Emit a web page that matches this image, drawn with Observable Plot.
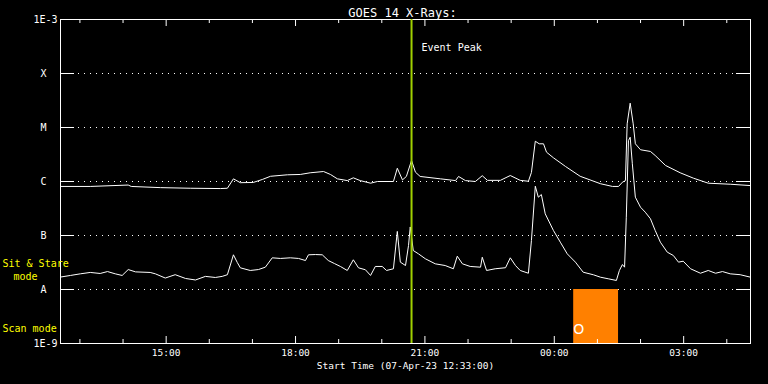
<!DOCTYPE html>
<html><head><meta charset="utf-8">
<script src="https://cdn.jsdelivr.net/npm/d3@7"></script>
<script src="https://cdn.jsdelivr.net/npm/@observablehq/plot@0.6"></script>
<style>html,body{margin:0;padding:0;background:#000;overflow:hidden;} #chart svg{display:block;}</style>
</head><body><div id="chart"></div>
<script>
// ---- data ----
const title = "GOES 14 X-Rays:";
const xLabel = "Start Time (07-Apr-23 12:33:00)";
const startTime = Date.UTC(2023, 3, 7, 12, 33);
const spanHours = 16;

// long channel (1-8 Å), hours since start / flux W m^-2
const longHours = [0.00,0.69,1.57,1.64,2.32,3.01,3.71,3.87,4.01,4.17,4.47,4.68,4.87,5.26,5.56,5.79,6.10,6.26,6.42,6.65,6.79,6.95,7.19,7.35,7.72,7.81,7.93,8.02,8.14,8.23,8.34,8.81,9.16,9.23,9.39,9.62,9.78,9.90,10.20,10.43,10.66,10.85,10.92,11.01,11.10,11.20,11.27,11.43,11.71,12.05,12.52,12.80,12.94,13.03,13.10,13.14,13.21,13.28,13.33,13.45,13.68,13.79,14.03,14.37,14.68,15.02,15.53,16.00];
const longFlux = [8.1e-7,8.1e-7,8.6e-7,8.1e-7,7.7e-7,7.5e-7,7.4e-7,7.5e-7,1.12e-6,9.5e-7,9.6e-7,1.09e-6,1.25e-6,1.33e-6,1.35e-6,1.45e-6,1.53e-6,1.35e-6,1.12e-6,1.04e-6,1.17e-6,1.04e-6,9.3e-7,1.0e-6,1.0e-6,1.76e-6,1.07e-6,1.24e-6,2.45e-6,1.49e-6,1.24e-6,1.12e-6,1.04e-6,1.24e-6,1.04e-6,1.0e-6,1.28e-6,1.05e-6,1.05e-6,1.29e-6,1.05e-6,1.01e-6,1.47e-6,5.57e-6,4.99e-6,4.99e-6,3.49e-6,2.75e-6,1.90e-6,1.25e-6,9.1e-7,8.1e-7,8.1e-7,9.7e-7,1.04e-6,1.17e-5,2.82e-5,1.17e-5,5.0e-6,3.87e-6,3.6e-6,3.03e-6,1.98e-6,1.45e-6,1.15e-6,9.3e-7,8.9e-7,8.4e-7];

// short channel (0.5-4 Å)
const shortHours = [0.00,0.23,0.46,0.69,0.92,1.09,1.27,1.43,1.57,1.74,2.08,2.20,2.43,2.66,2.90,3.13,3.36,3.59,3.75,3.87,4.01,4.10,4.17,4.40,4.59,4.75,4.91,5.10,5.33,5.52,5.68,5.75,5.91,6.07,6.21,6.35,6.49,6.65,6.79,6.91,7.07,7.19,7.30,7.46,7.56,7.72,7.81,7.88,8.00,8.07,8.11,8.18,8.30,8.46,8.69,8.92,9.11,9.20,9.32,9.50,9.74,9.78,9.88,10.08,10.32,10.43,10.55,10.66,10.85,10.92,11.01,11.08,11.15,11.24,11.43,11.59,11.75,11.94,12.12,12.36,12.52,12.70,12.89,12.96,13.03,13.08,13.12,13.17,13.21,13.26,13.33,13.45,13.56,13.68,13.79,13.91,14.07,14.21,14.33,14.44,14.61,14.84,15.02,15.19,15.35,15.53,15.76,16.00];
const shortFlux = [1.70e-8,1.82e-8,1.95e-8,2.07e-8,1.98e-8,2.15e-8,1.95e-8,1.82e-8,2.34e-8,2.12e-8,2.07e-8,1.95e-8,1.63e-8,1.88e-8,1.60e-8,1.50e-8,1.75e-8,1.67e-8,1.75e-8,1.88e-8,4.39e-8,3.16e-8,2.52e-8,2.25e-8,2.34e-8,2.59e-8,3.86e-8,3.76e-8,3.86e-8,3.76e-8,3.44e-8,4.39e-8,4.44e-8,4.39e-8,3.44e-8,3.03e-8,2.67e-8,2.25e-8,3.55e-8,2.52e-8,2.32e-8,1.82e-8,2.67e-8,2.67e-8,2.25e-8,2.42e-8,1.19e-7,3.21e-8,2.78e-8,6.53e-8,1.44e-7,5.27e-8,4.58e-8,3.71e-8,2.99e-8,2.78e-8,2.42e-8,4.14e-8,2.99e-8,2.67e-8,2.59e-8,3.96e-8,2.25e-8,2.42e-8,2.53e-8,3.86e-8,2.78e-8,2.25e-8,2.0e-8,8.07e-8,8.18e-7,5.12e-7,5.74e-7,2.52e-7,1.24e-7,7.52e-8,4.58e-8,3.21e-8,2.09e-8,1.87e-8,1.69e-8,1.58e-8,1.47e-8,2.25e-8,2.9e-8,2.59e-8,2.18e-7,5.74e-6,6.6e-6,2.13e-6,5.12e-7,3.34e-7,2.7e-7,2.04e-7,1.24e-7,7.52e-8,4.91e-8,4.27e-8,3.21e-8,3.34e-8,2.42e-8,2.0e-8,2.25e-8,2.0e-8,2.15e-8,1.95e-8,1.88e-8,1.69e-8];

const levelValues = [1e-8, 1e-7, 1e-6, 1e-5, 1e-4];
const levelLabels = ["A", "B", "C", "M", "X"];
const endValues = [1e-9, 1e-3];
const endLabels = ["1E-9", "1E-3"];
const eventPeakHours = 8.14;
const eventLabel = "Event Peak";
const scanStartHours = 11.90, scanEndHours = 12.94;
const scanBand = [1e-9, 1e-8];
const scanMark = "O";
const modeLabels = ["Sit & Stare", "mode", "Scan mode"];

// ---- build ----
const toDate = h => new Date(startTime + h * 3600e3);
const longData = longHours.map((h, i) => ({t: toDate(h), f: longFlux[i]}));
const shortData = shortHours.map((h, i) => ({t: toDate(h), f: shortFlux[i]}));
const hourTicks = d3.utcHour.range(toDate(0), toDate(spanHours));
const majorTicks = hourTicks.filter(d => d.getUTCHours() % 3 === 0);
const minorTicks = hourTicks.filter(d => d.getUTCHours() % 3 !== 0);
const fmt = d3.utcFormat("%H:%M");

const W = 768, H = 384, mL = 60, mR = 18, mT = 19, mB = 41;
const fw = W - mL - mR, fh = H - mT - mB;
const font = "DejaVu Sans Mono";
const yellow = "#ffff00";

const chart = Plot.plot({
  width: W, height: H,
  marginLeft: mL, marginRight: mR, marginTop: mT, marginBottom: mB,
  style: {background: "black", color: "white", fontFamily: font, fontSize: "10px"},
  x: {type: "utc", domain: [toDate(0), toDate(spanHours)], axis: null},
  y: {type: "log", domain: [1e-9, 1e-3], axis: null},
  marks: [
    Plot.ruleY(levelValues, {y: d => d, stroke: "white", strokeDasharray: "1,5"}),
    Plot.rect([{a: toDate(scanStartHours), b: toDate(scanEndHours), lo: scanBand[0], hi: scanBand[1]}],
      {x1: "a", x2: "b", y1: "lo", y2: "hi", fill: "#ff8000"}),
    Plot.frame({stroke: "white"}),
    Plot.ruleX(minorTicks, {x: d => d, stroke: "white", insetTop: fh - 4}),
    Plot.ruleX(majorTicks, {x: d => d, stroke: "white", insetTop: fh - 7}),
    Plot.ruleX(minorTicks, {x: d => d, stroke: "white", insetBottom: fh - 4}),
    Plot.ruleX(majorTicks, {x: d => d, stroke: "white", insetBottom: fh - 7}),
    Plot.ruleY(levelValues, {y: d => d, stroke: "white", insetRight: fw - 14}),
    Plot.ruleY(levelValues, {y: d => d, stroke: "white", insetLeft: fw - 14}),
    Plot.line(longData, {x: "t", y: "f", stroke: "white", strokeWidth: 1, clip: true}),
    Plot.line(shortData, {x: "t", y: "f", stroke: "white", strokeWidth: 1, clip: true}),
    Plot.ruleX([toDate(eventPeakHours)], {x: d => d, stroke: "#a0d000", strokeWidth: 2}),
    Plot.text([title], {frameAnchor: "top", dy: -11, dx: -3, fill: "white", fontSize: 12, fontFamily: font}),
    Plot.text(majorTicks, {x: d => d, text: d => fmt(d), frameAnchor: "bottom", dy: 12, fill: "white", fontSize: 9.5, fontFamily: font}),
    Plot.text([xLabel], {frameAnchor: "bottom", dy: 25, fill: "white", fontSize: 9.5, fontFamily: font}),
    Plot.text(levelValues, {y: d => d, text: (d, i) => levelLabels[i], frameAnchor: "left", dx: -17, textAnchor: "middle", fill: "white", fontSize: 10, fontFamily: font}),
    Plot.text(endValues, {y: d => d, text: (d, i) => endLabels[i], frameAnchor: "left", dx: -3, textAnchor: "end", fill: "white", fontSize: 10, fontFamily: font}),
    Plot.text([{t: toDate(eventPeakHours), s: eventLabel}], {x: "t", text: "s", frameAnchor: "top", dy: 24, dx: 10, textAnchor: "start", fill: "white", fontSize: 10, fontFamily: font}),
    Plot.text([modeLabels[0]], {frameAnchor: "top-left", dx: -58, dy: 240, textAnchor: "start", fill: yellow, fontSize: 10, fontFamily: font}),
    Plot.text([modeLabels[1]], {frameAnchor: "top-left", dx: -47, dy: 253, textAnchor: "start", fill: yellow, fontSize: 10, fontFamily: font}),
    Plot.text([modeLabels[2]], {frameAnchor: "top-left", dx: -58, dy: 305, textAnchor: "start", fill: yellow, fontSize: 10, fontFamily: font}),
    Plot.text([{t: toDate(scanStartHours), s: scanMark}], {x: "t", text: "s", frameAnchor: "bottom", dy: -10, dx: 5, textAnchor: "middle", fill: "white", fontWeight: "normal", fontSize: 14, fontFamily: "DejaVu Sans"})
  ]
});
document.getElementById("chart").appendChild(chart);
</script>
</body></html>
